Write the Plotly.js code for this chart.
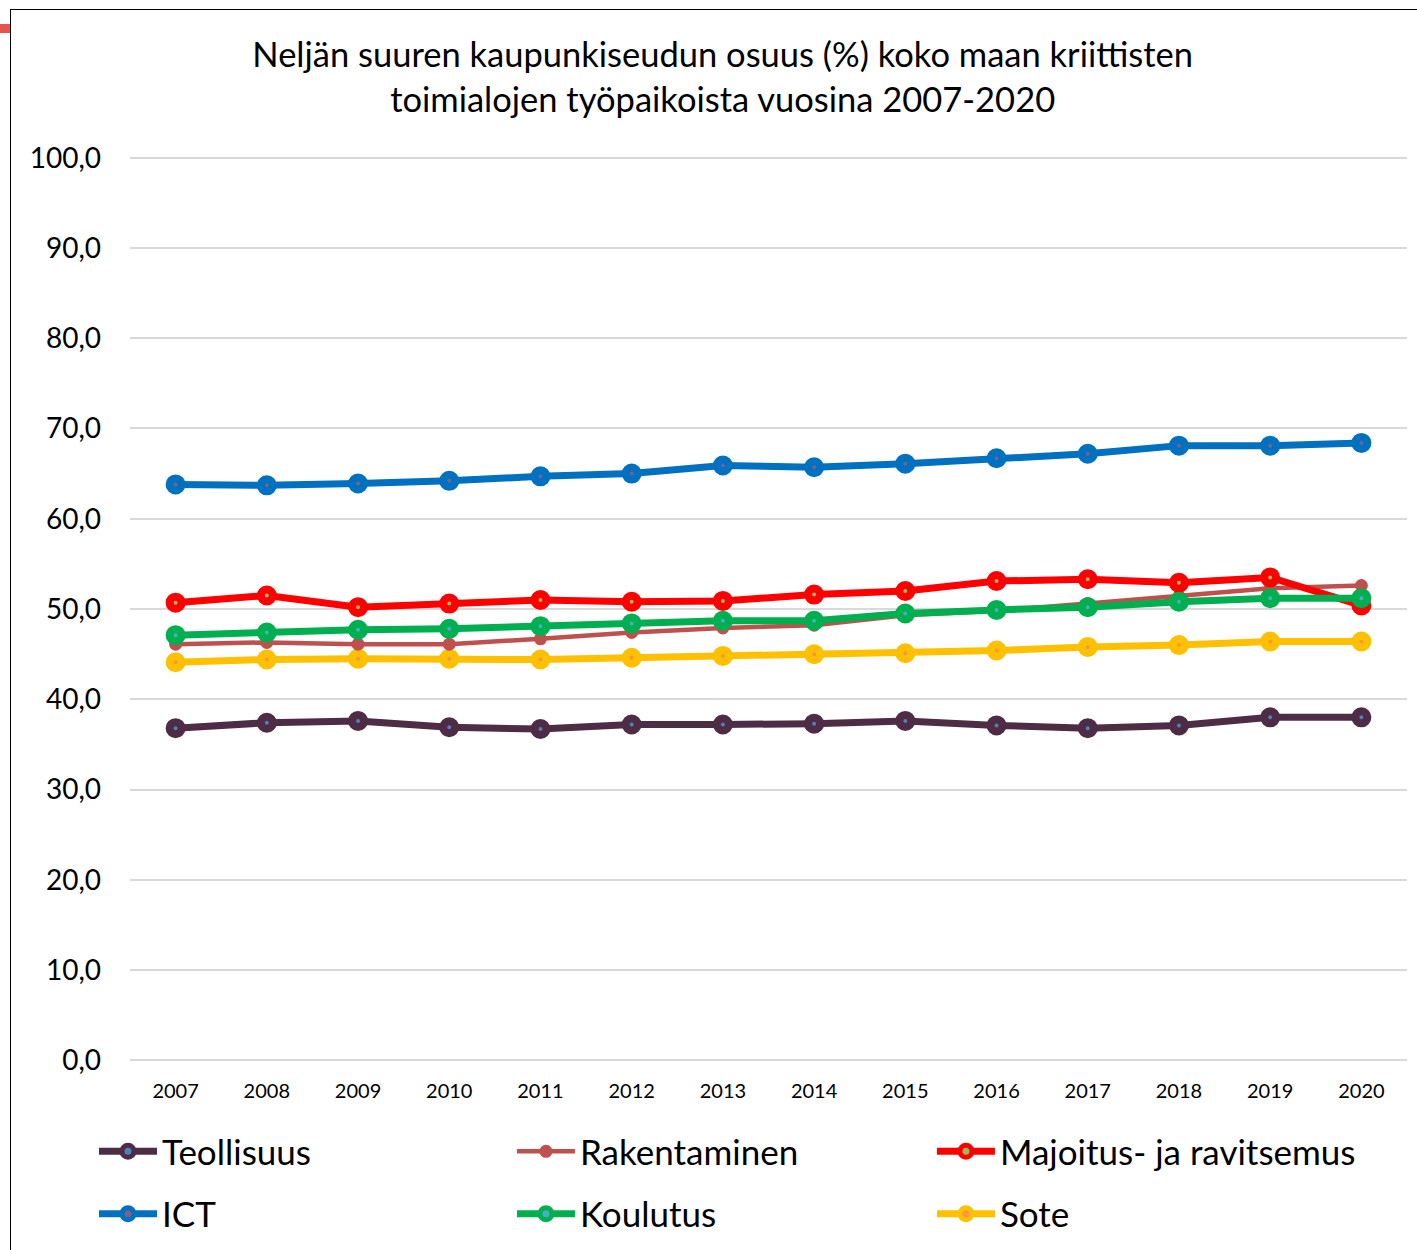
<!DOCTYPE html>
<html>
<head>
<meta charset="utf-8">
<script src="https://cdn.plot.ly/plotly-3.0.1.min.js"></script>
<style>
  html, body { margin: 0; padding: 0; background: #fff; }
  #chart { width: 1417px; height: 1250px; }
  #frameL { position: absolute; left: 10px; top: 9px; width: 1px; height: 1241px; background: #000; }
  #frameT { position: absolute; left: 10px; top: 9px; width: 1407px; height: 1px; background: #000; }
  #mark { position: absolute; left: 0px; top: 24px; width: 10px; height: 9px; background: #E8534A; }
</style>
</head>
<body>
<div id="chart"></div>
<div id="frameL"></div>
<div id="frameT"></div>
<div id="mark"></div>
<script>
const years = ["2007","2008","2009","2010","2011","2012","2013","2014","2015","2016","2017","2018","2019","2020"];
const teollisuus   = [36.8, 37.4, 37.6, 36.9, 36.7, 37.2, 37.2, 37.3, 37.6, 37.1, 36.8, 37.1, 38.0, 38.0];
const rakentaminen = [46.1, 46.3, 46.1, 46.1, 46.7, 47.4, 47.9, 48.2, 49.3, 49.8, 50.6, 51.4, 52.3, 52.6];
const majoitus     = [50.7, 51.5, 50.2, 50.6, 51.0, 50.8, 50.9, 51.6, 52.0, 53.1, 53.3, 52.9, 53.5, 50.4];
const ict          = [63.8, 63.7, 63.9, 64.2, 64.7, 65.0, 65.9, 65.7, 66.1, 66.7, 67.2, 68.1, 68.1, 68.4];
const koulutus     = [47.1, 47.4, 47.7, 47.8, 48.1, 48.4, 48.7, 48.7, 49.5, 49.9, 50.2, 50.8, 51.2, 51.2];
const sote         = [44.1, 44.4, 44.5, 44.5, 44.4, 44.6, 44.8, 45.0, 45.1, 45.4, 45.8, 46.0, 46.4, 46.4];
const names = ["Teollisuus", "Rakentaminen", "Majoitus- ja ravitsemus", "ICT", "Koulutus", "Sote"];
const yTicks = [0, 10, 20, 30, 40, 50, 60, 70, 80, 90, 100];

function series(name, y, color, dot, lw, msize, mlw, legend) {
  return {
    type: 'scatter', mode: 'lines+markers', name: name, x: years, y: y,
    line: { color: color, width: lw },
    marker: { symbol: 'circle', size: msize, color: dot, line: { color: color, width: mlw } },
    legend: legend, hoverinfo: 'x+y+name'
  };
}

const data = [
  series(names[0], teollisuus, '#4E2C45', '#4F81BD', 7, 12, 8, 'legend'),
  series(names[3], ict, '#0070C0', '#7F6084', 7, 12, 8, 'legend4'),
  series(names[5], sote, '#FFC000', '#F79646', 7, 12, 8, 'legend6'),
  series(names[1], rakentaminen, '#C0504D', '#C0504D', 4.5, 8, 5, 'legend2'),
  series(names[2], majoitus, '#FF0000', '#9BBB59', 7, 12, 8, 'legend3'),
  series(names[4], koulutus, '#00B050', '#4BACC6', 7, 12, 8, 'legend5')
];

const FONT = 'Lato, "Open Sans", sans-serif';
function leg(x, y) {
  return {
    orientation: 'h', x: x, xanchor: 'left', y: y, yanchor: 'middle',
    font: { family: FONT, size: 35 }, itemwidth: 58, bgcolor: 'rgba(0,0,0,0)'
  };
}
const colX = [-0.0282, 0.2991, 0.628];
const rowY = [-0.0975, -0.1662];
const layout = {
  width: 1417, height: 1250,
  margin: { l: 130, r: 10, t: 155, b: 187, autoexpand: false },
  paper_bgcolor: '#fff', plot_bgcolor: '#fff',
  separators: ', ',
  font: { family: FONT, color: '#000' },
  title: {
    text: 'Neljän suuren kaupunkiseudun osuus (%) koko maan kriittisten<br>toimialojen työpaikoista vuosina 2007-2020',
    font: { family: FONT, size: 34.5, color: '#000' },
    x: 0.51, xanchor: 'center', y: 0.9466, yanchor: 'middle'
  },
  xaxis: {
    type: 'category', range: [-0.5, 13.5], showgrid: false, zeroline: false,
    showline: false, ticks: '', tickfont: { family: FONT, size: 20 }, ticklabelstandoff: 14
  },
  yaxis: {
    range: [-0.3, 100.3], tickvals: yTicks, tickformat: '.1f', showgrid: true,
    gridcolor: '#D9D9D9', gridwidth: 1.6, zeroline: false, showline: false,
    ticks: '', tickfont: { family: FONT, size: 28 }, ticklabelstandoff: 28
  },
  legend:  leg(colX[0], rowY[0]),
  legend2: leg(colX[1], rowY[0]),
  legend3: leg(colX[2], rowY[0]),
  legend4: leg(colX[0], rowY[1]),
  legend5: leg(colX[1], rowY[1]),
  legend6: leg(colX[2], rowY[1]),
  showlegend: true
};

Plotly.newPlot('chart', data, layout, { displayModeBar: false, responsive: false });
</script>
</body>
</html>
